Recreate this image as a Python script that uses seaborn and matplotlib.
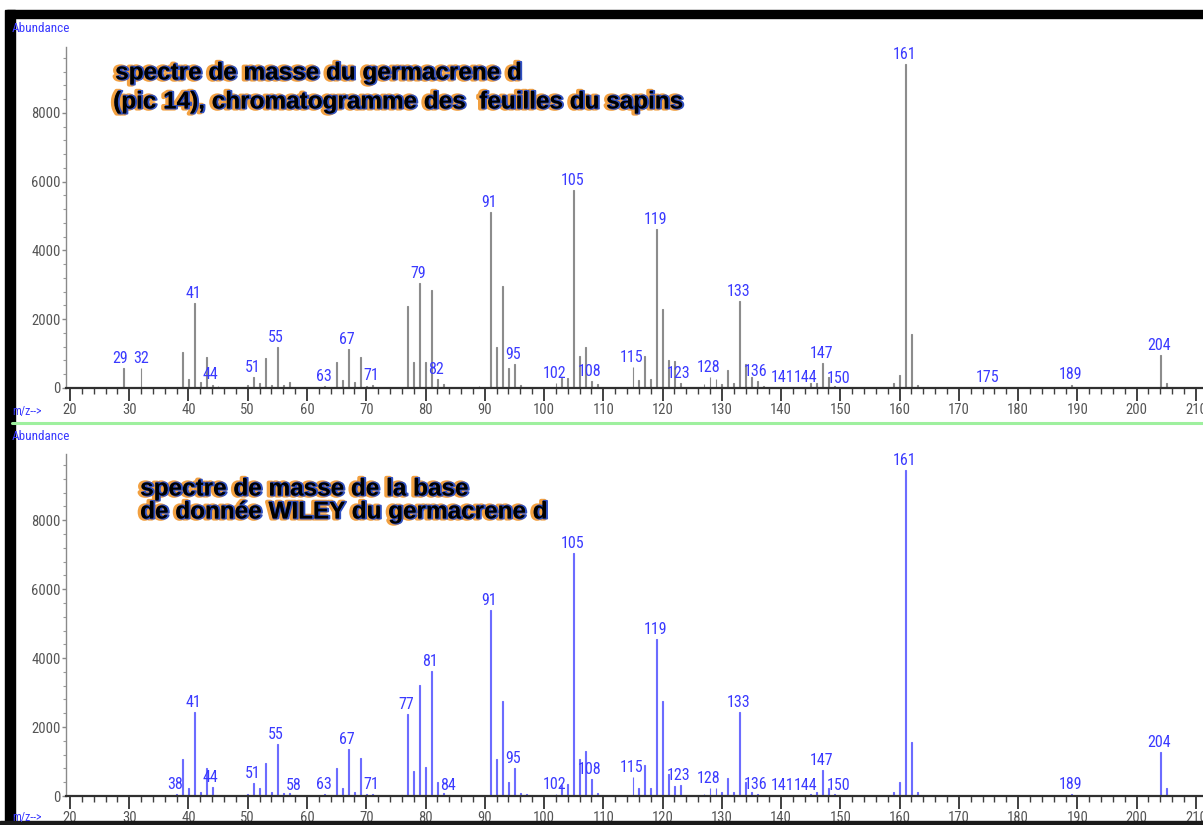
import numpy as np
import pandas as pd
import matplotlib
matplotlib.use("Agg")
import matplotlib.pyplot as plt
import matplotlib.patheffects as pe
from matplotlib import font_manager
from matplotlib.ticker import MultipleLocator, FixedLocator
import seaborn as sns

# ---- measured spectrum (m/z, abundance) ----
sample_mz = [29, 32, 39, 40, 41, 42, 43, 44, 45, 50, 51, 52, 53, 54, 55, 56, 57,
             63, 65, 66, 67, 68, 69, 70, 71, 77, 78, 79, 80, 81, 82, 83, 89,
             91, 92, 93, 94, 95, 96, 102, 103, 104, 105, 106, 107, 108, 109,
             115, 116, 117, 118, 119, 120, 121, 122, 123, 127, 128, 129, 130,
             131, 132, 133, 134, 135, 136, 137, 141, 144, 145, 146, 147, 148,
             149, 159, 160, 161, 162, 163, 175, 189, 204, 205]
sample_ab = [570, 570, 1040, 260, 2480, 175, 900, 100, 60, 90, 320, 155, 880, 100,
             1200, 80, 175, 60, 750, 230, 1140, 180, 890, 70, 80, 2395, 745, 3060,
             745, 2850, 262, 116, 50, 5130, 1200, 2970, 573, 690, 100, 150, 300,
             300, 5760, 940, 1200, 213, 120, 620, 233, 940, 270, 4615, 2290, 800,
             780, 150, 110, 330, 260, 110, 523, 155, 2540, 690, 310, 204, 50, 40,
             40, 155, 155, 737, 310, 60, 135, 378, 9430, 1560, 100, 30, 100, 960,
             150]
sample_labels = [29, 32, 41, 44, 51, 55, 63, 67, 71, 79, 82, 91, 95, 102, 105, 108,
                 115, 119, 123, 128, 133, 136, 141, 144, 147, 150, 161, 175, 189, 204]

# ---- WILEY library spectrum ----
library_mz = [38, 39, 40, 41, 42, 43, 44, 50, 51, 52, 53, 54, 55, 56, 57, 58, 62,
              63, 65, 66, 67, 68, 69, 70, 71, 76, 77, 78, 79, 80, 81, 82, 83, 84,
              91, 92, 93, 94, 95, 96, 97, 102, 103, 104, 105, 106, 107, 108, 109,
              115, 116, 117, 118, 119, 120, 121, 122, 123, 127, 128, 129, 130,
              131, 132, 133, 134, 135, 136, 141, 143, 144, 145, 146, 147, 148,
              149, 150, 159, 160, 161, 162, 163, 189, 204, 205]
library_ab = [60, 1064, 223, 2444, 126, 802, 270, 50, 368, 223, 948, 126, 1498, 100,
              80, 40, 40, 60, 802, 223, 1353, 126, 1092, 60, 60, 30, 2377, 734,
              3217, 850, 3623, 415, 100, 40, 5391, 1064, 2754, 415, 802, 100, 50,
              60, 319, 338, 7034, 1064, 1304, 483, 100, 541, 222, 898, 222, 4551,
              2754, 628, 300, 319, 50, 222, 222, 126, 531, 126, 2444, 415, 126,
              50, 40, 30, 40, 60, 126, 754, 222, 60, 40, 126, 415, 9450, 1556,
              126, 50, 1275, 230]
library_labels = [38, 41, 44, 51, 55, 58, 63, 67, 71, 77, 81, 84, 91, 95, 102, 105,
                  108, 115, 119, 123, 128, 133, 136, 141, 144, 147, 150, 161, 189, 204]

x_ticks = list(range(20, 211, 10))
y_ticks = [0, 2000, 4000, 6000, 8000]

title_top = ["spectre de masse du germacrene d",
             "(pic 14), chromatogramme des  feuilles du sapins"]
title_bottom = ["spectre de masse de la base",
                "de donnée WILEY du germacrene d"]

sns.set_theme(style="white")
plt.rcParams["font.family"] = ["DejaVu Sans"]

installed = {f.name for f in font_manager.fontManager.ttflist}
narrow_family = next((n for n in ["Liberation Sans Narrow", "Roboto Condensed",
                                  "Open Sans Condensed", "Arial Narrow"]
                      if n in installed), "DejaVu Sans")
narrow = font_manager.FontProperties(family=narrow_family, stretch="condensed")
bold_family = "Liberation Sans" if "Liberation Sans" in installed else "DejaVu Sans"

W, H = 1203, 825
fig = plt.figure(figsize=(W / 100, H / 100), dpi=100)
fig.patch.set_facecolor("white")


def axes_px(left, top, right, bottom):
    return fig.add_axes([left / W, 1 - bottom / H, (right - left) / W,
                         (bottom - top) / H])


LABEL_BLUE = "#3a3aff"
TICK_GREY = "#555555"
# small horizontal nudges (points) for crowded peak labels
LABEL_NUDGE = {141: -2.5, 144: 1.5, 29: -1, 32: 1}


def draw_spectrum(ax, mz, ab, labels, color):
    df = pd.DataFrame({"mz": mz, "abundance": ab})
    sns.histplot(data=df, x="mz", weights="abundance", discrete=True,
                 shrink=0.12, color=color, alpha=1.0, edgecolor=color,
                 linewidth=0.8, ax=ax, legend=False)
    lookup = dict(zip(mz, ab))
    for m in labels:
        h = lookup.get(m, 0)
        ax.annotate(str(m), xy=(m, h), xytext=(-1 + LABEL_NUDGE.get(m, 0), 1.5),
                    textcoords="offset points", ha="center", va="bottom",
                    color=LABEL_BLUE, fontproperties=narrow, fontsize=11.5)
    ax.set_xlim(19.33, 211.2)
    ax.set_ylim(0, 9920)
    ax.set_xlabel("")
    ax.set_ylabel("")
    ax.set_facecolor("white")
    ax.grid(False)
    for side in ("top", "right"):
        ax.spines[side].set_visible(False)
    ax.spines["left"].set_color("#8a8a8a")
    ax.spines["left"].set_linewidth(1.0)
    ax.spines["bottom"].set_color("#303030")
    ax.spines["bottom"].set_linewidth(1.6)
    ax.xaxis.set_major_locator(FixedLocator(x_ticks))
    ax.xaxis.set_minor_locator(MultipleLocator(2))
    ax.yaxis.set_major_locator(FixedLocator(y_ticks))
    ax.yaxis.set_minor_locator(MultipleLocator(400))
    ax.tick_params(axis="x", which="major", direction="out", length=9, width=1.4,
                   color="#404040", pad=2, labelcolor=TICK_GREY)
    ax.tick_params(axis="x", which="minor", direction="out", length=4, width=1.0,
                   color="#404040")
    ax.tick_params(axis="y", which="major", direction="out", length=3, width=1.0,
                   color="#8a8a8a", pad=1, labelcolor=TICK_GREY)
    ax.tick_params(axis="y", which="minor", direction="out", length=2, width=0.8,
                   color="#9a9a9a")
    ax.tick_params(bottom=True, left=True, which="both")
    for lab in ax.get_xticklabels() + ax.get_yticklabels():
        lab.set_fontproperties(narrow)
        lab.set_fontsize(10.5)


ax_top = axes_px(66, 47, 1203, 388)
draw_spectrum(ax_top, sample_mz, sample_ab, sample_labels, "#8c8c8c")

ax_bot = axes_px(66, 454, 1203, 796)
draw_spectrum(ax_bot, library_mz, library_ab, library_labels, "#6c6cff")

halo = [pe.Stroke(linewidth=3.0, foreground="#f2a040", offset=(-0.9, 0)),
        pe.Stroke(linewidth=1.4, foreground="#3050c0", offset=(0.9, 0)),
        pe.Normal()]


def fig_text(x, y, s, **kw):
    fig.text(x / W, 1 - y / H, s, **kw)


TITLE_SIZE = 17.5
for i, line in enumerate(title_top):
    fig_text(113 if i else 115, 73 + 29 * i, line, ha="left", va="center",
             family=bold_family, fontweight="bold", fontsize=TITLE_SIZE,
             color="black", path_effects=halo)
for i, line in enumerate(title_bottom):
    fig_text(140, 489 + 23 * i, line, ha="left", va="center",
             family=bold_family, fontweight="bold", fontsize=TITLE_SIZE,
             color="black", path_effects=halo)

for y in (29, 437):
    fig_text(12, y, "Abundance", ha="left", va="center", color="#3a3aff",
             fontproperties=narrow, fontsize=9.5)
for y in (411, 817):
    fig_text(12, y, "m/z-->", ha="left", va="center", color="#3a3aff",
             fontproperties=narrow, fontsize=8.5)

# separator and frame
fig.add_artist(plt.Line2D([12 / W, 1.0], [1 - 423 / H, 1 - 423 / H],
                          color="#9ef09e", linewidth=2.2))
fig.add_artist(plt.Rectangle((7 / W, 1 - 18 / H), 1 - 7 / W, 8 / H,
                             color="black", transform=fig.transFigure))
fig.add_artist(plt.Rectangle((5 / W, 0), 10 / W, 1 - 10 / H,
                             color="black", transform=fig.transFigure))
fig.add_artist(plt.Rectangle((0, 0), 1, 4 / H,
                             color="#1a1a1a", transform=fig.transFigure))

fig.savefig("out.png", dpi=100, facecolor="white")
